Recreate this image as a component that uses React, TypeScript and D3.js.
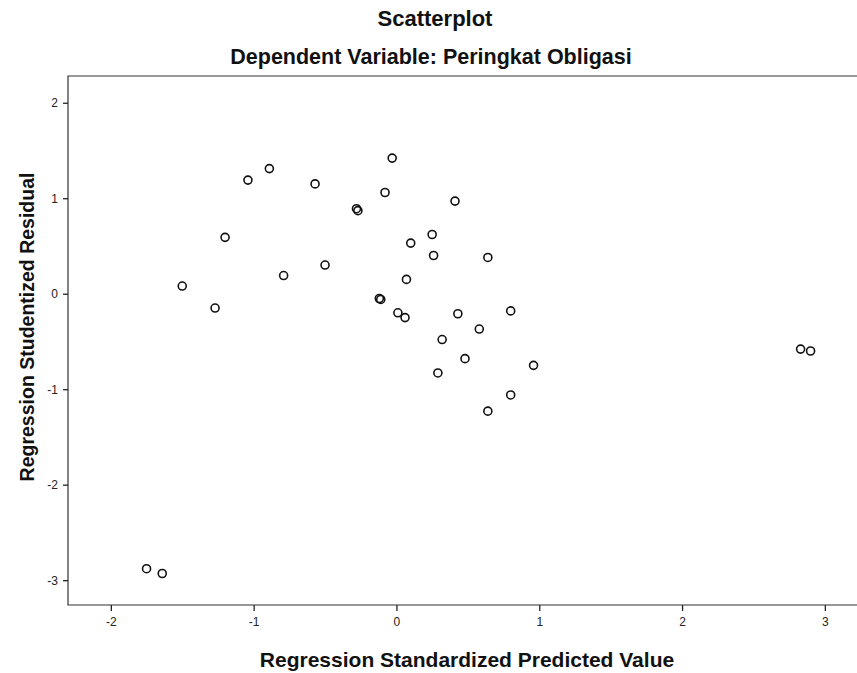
import React, { useEffect, useRef } from "react";
import * as d3 from "d3";

// Regression Standardized Predicted Value (x) / Studentized Residual (y)
const predicted = [
  -1.5, -1.27, -1.2, -1.04, -0.89, -0.79, -0.57, -0.5, -0.28, -0.27,
  -0.03, -0.08, -0.12, -0.11, 0.01, 0.06, 0.1, 0.07, 0.25, 0.26,
  0.41, 0.64, 0.32, 0.43, 0.58, 0.48, 0.29, 0.8, 0.96, 0.8,
  0.64, 2.83, 2.9, -1.75, -1.64,
];
const residual = [
  0.08, -0.15, 0.59, 1.19, 1.31, 0.19, 1.15, 0.3, 0.89, 0.87,
  1.42, 1.06, -0.05, -0.06, -0.2, -0.25, 0.53, 0.15, 0.62, 0.4,
  0.97, 0.38, -0.48, -0.21, -0.37, -0.68, -0.83, -0.18, -0.75, -1.06,
  -1.23, -0.58, -0.6, -2.88, -2.93,
];
const xTicks = [-2, -1, 0, 1, 2, 3];
const yTicks = [-3, -2, -1, 0, 1, 2];

const title = "Scatterplot";
const subtitle = "Dependent Variable: Peringkat Obligasi";
const xLabel = "Regression Standardized Predicted Value";
const yLabel = "Regression Studentized Residual";

const App = () => {
  const svgRef = useRef<SVGSVGElement>(null);

  useEffect(() => {
    document.body.style.margin = "0";
    const width = 857;
    const height = 673;
    const left = 68;
    const right = 872;
    const top = 76;
    const bottom = 605;
    const font = "'Liberation Sans', Arial, sans-serif";

    const svg = d3.select(svgRef.current);
    svg.selectAll("*").remove();
    svg.attr("width", width).attr("height", height);

    svg.append("rect").attr("width", width).attr("height", height).attr("fill", "#fff");

    const x = d3.scaleLinear().domain([-2.3, 3.33]).range([left, right]);
    const y = d3.scaleLinear().domain([-3.26, 2.28]).range([bottom, top]);

    // frame
    svg
      .append("path")
      .attr("d", `M${right},${top}H${left}V${bottom}H${right}`)
      .attr("fill", "none")
      .attr("stroke", "#333")
      .attr("stroke-width", 1.2);

    // x axis
    const gx = svg
      .append("g")
      .attr("transform", `translate(0,${bottom})`)
      .call(d3.axisBottom(x).tickValues(xTicks).tickSize(6).tickFormat((d: any) => String(d)));
    gx.select(".domain").remove();
    gx.selectAll("line").attr("stroke", "#222").attr("stroke-width", 1.3);
    gx.selectAll("text")
      .attr("font-family", font)
      .attr("font-size", 12)
      .attr("fill", "#222")
      .attr("dy", "1em");

    // y axis
    const gy = svg
      .append("g")
      .attr("transform", `translate(${left},0)`)
      .call(d3.axisLeft(y).tickValues(yTicks).tickSize(5).tickFormat((d: any) => String(d)));
    gy.select(".domain").remove();
    gy.selectAll("line").attr("stroke", "#222").attr("stroke-width", 1.3);
    gy.selectAll("text")
      .attr("font-family", font)
      .attr("font-size", 12)
      .attr("fill", "#222")
      .attr("x", -10);

    // points
    svg
      .append("g")
      .selectAll("circle")
      .data(predicted.map((p, i) => [p, residual[i]]))
      .join("circle")
      .attr("cx", (d) => x(d[0]))
      .attr("cy", (d) => y(d[1]))
      .attr("r", 4)
      .attr("fill", "none")
      .attr("stroke", "#111")
      .attr("stroke-width", 1.6);

    // titles
    svg
      .append("text")
      .attr("x", 435)
      .attr("y", 26)
      .attr("text-anchor", "middle")
      .attr("font-family", font)
      .attr("font-weight", "bold")
      .attr("font-size", 22)
      .attr("fill", "#111")
      .text(title);
    svg
      .append("text")
      .attr("x", 431)
      .attr("y", 64)
      .attr("text-anchor", "middle")
      .attr("font-family", font)
      .attr("font-weight", "bold")
      .attr("font-size", 21.5)
      .attr("fill", "#111")
      .text(subtitle);

    // axis labels
    svg
      .append("text")
      .attr("x", 467)
      .attr("y", 667)
      .attr("text-anchor", "middle")
      .attr("font-family", font)
      .attr("font-weight", "bold")
      .attr("font-size", 21)
      .attr("fill", "#111")
      .text(xLabel);
    svg
      .append("text")
      .attr("transform", `translate(34,327) rotate(-90)`)
      .attr("text-anchor", "middle")
      .attr("font-family", font)
      .attr("font-weight", "bold")
      .attr("font-size", 19.5)
      .attr("fill", "#111")
      .text(yLabel);
  }, []);

  return (
    <div>
      <svg ref={svgRef} style={{ display: "block" }}></svg>
    </div>
  );
};

export default App;
